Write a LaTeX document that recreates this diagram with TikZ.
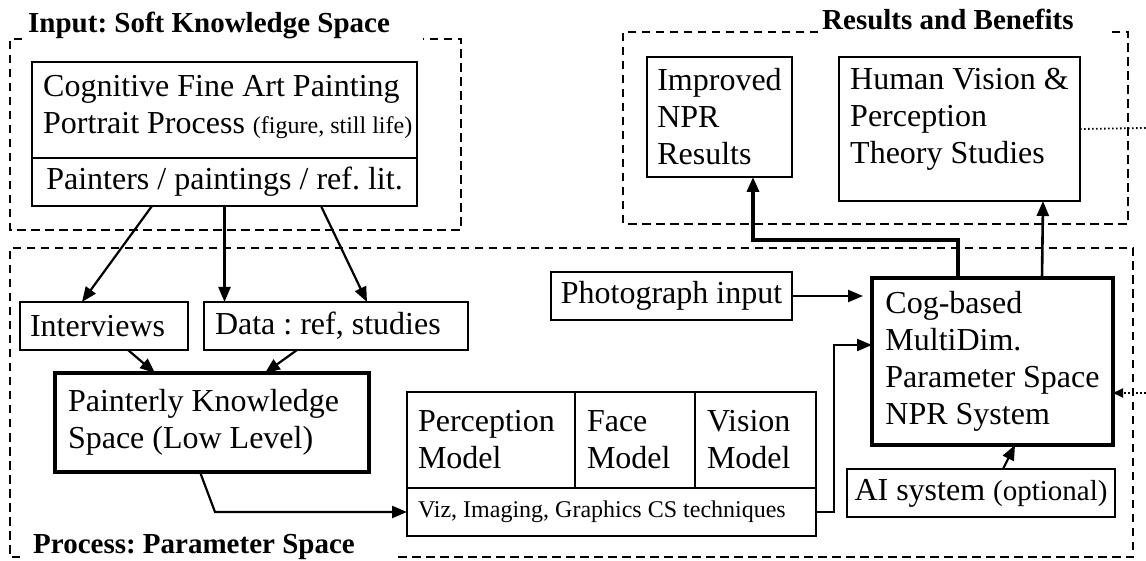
\documentclass[tikz,border=0pt]{standalone}
\usepackage{fontspec}
\setmainfont{Liberation Serif}
\usetikzlibrary{arrows.meta,positioning}
\frenchspacing

\newcommand{\smallpart}[1]{{\fontsize{24}{28}\selectfont #1}}
\newcommand{\optpart}[1]{{\fontsize{29}{34}\selectfont #1}}

\tikzset{
  frame/.style={line width=2.2pt, dash pattern=on 8.5pt off 5.5pt},
  box/.style={draw, line width=1.5pt, anchor=north west, align=flush left,
    inner ysep=0pt, outer sep=0pt, font=\fontsize{32}{37}\selectfont},
  thickbox/.style={box, line width=3.8pt},
  txt/.style={anchor=north west, align=flush left, inner sep=0pt,
    font=\fontsize{32}{37}\selectfont},
  title/.style={anchor=base west, inner sep=0pt,
    font=\fontsize{29}{34}\selectfont\bfseries},
  conn/.style={->, line width=2.2pt},
  dots/.style={line width=1.8pt, dash pattern=on 1.6pt off 2.4pt}
}

\begin{document}
\begin{tikzpicture}[x=1pt, y=-1pt, >={Triangle[length=15pt,width=12pt]}]
      \useasboundingbox (0,0) rectangle (1146,561);
      %\draw [help lines] (0,0) grid[step=50] (1146,561);

      % dashed frames and their titles
      \draw [frame] (22,39) -- (10,39) -- (10,230) -- (461,230) -- (461,39) -- (423,39);
      \draw [frame] (818,32) -- (623,32) -- (623,224) -- (1128,224) -- (1128,32) -- (1108,32);
      \draw [frame] (398,557) -- (1133,557) -- (1133,248) -- (10,248) -- (10,557) -- (25,557);
      \node [title] (inTitle) at (28,33) {Input: Soft Knowledge Space};
      \node [title] (resTitle) at (822,30) {Results and Benefits};
      \node [title] (procTitle) at (33,553) {Process: Parameter Space};

      % input
      \node [box, minimum width=385pt, minimum height=96pt] (artA) at (32,62) {};
      \node [txt] (artText) at (43,75)
      {Cognitive Fine Art Painting\\Portrait Process \smallpart{(figure, still life)}};
      \node [box, below=0pt of artA.south west, anchor=north west, minimum width=385pt,
      minimum height=48pt] (artB) {Painters / paintings / ref. lit.};

      % process
      \node [box, minimum height=48pt, text width=148pt, inner xsep=10pt] (iview)
      at (20,302) {Interviews};
      \node [box, minimum height=48pt, text width=242pt, inner xsep=11pt] (data)
      at (204,302) {Data : ref, studies};
      \node [thickbox, minimum height=99pt, text width=288pt, inner xsep=13pt] (paint)
      at (55,373) {Painterly Knowledge\\Space (Low Level)};
      \node [box, minimum height=96pt, text width=146pt, inner xsep=11pt] (perc)
      at (407,392) {Perception\\Model};
      \node [box, right=0pt of perc, minimum height=96pt, text width=96pt,
      inner xsep=12pt] (face) {Face\\Model};
      \node [box, right=0pt of face, minimum height=96pt, text width=97pt,
      inner xsep=12pt] (vis) {Vision\\Model};
      \node [box, below=0pt of perc.south west, anchor=north west, minimum height=48pt,
      text width=387pt, inner xsep=11pt, font=\fontsize{24}{28}\selectfont] (viz)
      {Viz, Imaging, Graphics CS techniques};
      \node [box, minimum width=241pt, minimum height=48pt] (photo)
      at (551,272) {Photograph input};
      \node [thickbox, minimum width=241pt, minimum height=167pt] (cog)
      at (872,278) {Cog-based\\MultiDim.\\Parameter Space\\NPR System};
      \node [box, minimum width=268pt, minimum height=48pt] (ai)
      at (847,469) {AI system \optpart{(optional)}};

      % results
      \node [box, minimum width=145pt, minimum height=120pt] (imp)
      at (647,57) {Improved\\NPR\\Results};
      \node [box, minimum width=241pt, minimum height=144pt] (human) at (839,57) {};
      \node [txt] (humanText) at (850,68)
      {Human Vision \&\\Perception\\Theory Studies};

      % connectors
      \draw [conn] ([xshift=-72.5pt]artB.south) -- ([xshift=-22pt]iview.north);
      \draw [conn] (artB.south) -- (artB.south |- data.north);
      \draw [conn] ([xshift=96.5pt]artB.south) -- ([xshift=31pt]data.north);
      \draw [conn] ([xshift=24pt]iview.south) -- ([xshift=-57pt]paint.north);
      \draw [conn] ([xshift=-39pt]data.south) -- ([xshift=53pt]paint.north);
      \draw [conn] ([xshift=-12pt]paint.south) -- ([xshift=3pt]paint.south |- viz.west)
      -- (viz.west);
      \draw [conn] (viz.east) -- ++(18,0) |- ([yshift=16.5pt]cog.west);
      \draw [conn, shorten >=9pt] (photo.east) -- (photo.east -| cog.west);
      \draw [conn] ([xshift=22pt]ai.north) -- ([xshift=22.5pt]cog.south);
      \draw [conn, line width=3.5pt] ([xshift=-34.5pt]cog.north) -- ++(0,-38)
      -| ([xshift=33.5pt]imp.south);
      \draw [conn, line width=2.6pt] ([xshift=49.5pt]cog.north) -- ([xshift=83.5pt]human.south);
      \coordinate (edgeA) at (1146,128);
      \coordinate (edgeB) at (1146,393);
      \draw [dots] (human.east) -- (edgeA);
      \draw [dots, -{Triangle[length=10pt,width=9pt]}] (edgeB) -- ([yshift=-31.5pt]cog.east);

    \end{tikzpicture}
\end{document}
